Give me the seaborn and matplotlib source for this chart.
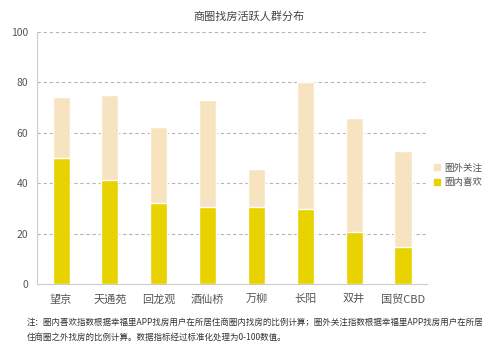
import numpy as np
import pandas as pd
import seaborn as sns
import matplotlib.pyplot as plt
from matplotlib.lines import Line2D

# data
districts = ["望京", "天通苑", "回龙观", "酒仙桥", "万柳", "长阳", "双井", "国贸CBD"]
inner_like = [50.0, 41.3, 32.4, 30.8, 30.8, 29.9, 20.7, 14.9]      # 圈内喜欢
outer_focus = [24.0, 33.5, 29.9, 42.0, 14.9, 50.1, 45.1, 37.9]     # 圈外关注

yticks = [0, 20, 40, 60, 80, 100]
title = "商圈找房活跃人群分布"
note = ("注：圈内喜欢指数根据幸福里APP找房用户在所居住商圈内找房的比例计算；圈外关注指数根据幸福里APP找房用户在所居\n"
        "住商圈之外找房的比例计算。数据指标经过标准化处理为0-100数值。")

c_inner = "#E8D200"
c_outer = "#F8E3C0"

sns.set_style("white")
plt.rcParams['font.family'] = ['Noto Sans CJK SC', 'DejaVu Sans']

df = pd.DataFrame({"district": districts, "inner": inner_like, "outer": outer_focus})
df["total"] = df["inner"] + df["outer"]

fig = plt.figure(figsize=(4.99, 3.52), dpi=100)
ax = fig.add_axes([0.0735, 0.192, 0.783, 0.718])

sns.barplot(data=df, x="district", y="total", color=c_outer, width=0.35,
            saturation=1, ax=ax, zorder=3)
sns.barplot(data=df, x="district", y="inner", color=c_inner, width=0.35,
            saturation=1, ax=ax, zorder=4)

ax.set_xlim(-0.5, len(districts) - 0.5)
ax.set_ylim(0, 100)
ax.set_yticks(yticks)
for t in yticks[1:]:
    ax.axhline(t, color="#b5b5b5", lw=0.8, ls=(0, (3, 2.5)), zorder=1)
ax.set_xlabel("")
ax.set_ylabel("")
ax.tick_params(axis="both", length=0, labelsize=7.5, colors="#555555")
ax.tick_params(axis="x", labelsize=8, pad=7)
ax.tick_params(axis="y", pad=6)
for s in ["top", "right"]:
    ax.spines[s].set_visible(False)
for s in ["left", "bottom"]:
    ax.spines[s].set_color("#cccccc")
    ax.spines[s].set_linewidth(0.8)

fig.text(0.5, 0.952, title, ha="center", va="center", fontsize=8, color="#444444")

handles = [Line2D([], [], marker="s", ls="", color=c_outer, markersize=4.5),
           Line2D([], [], marker="s", ls="", color=c_inner, markersize=4.5)]
fig.legend(handles, ["圈外关注", "圈内喜欢"], loc="center left",
           bbox_to_anchor=(0.868, 0.502), frameon=False, fontsize=6.8,
           handlelength=0.8, handletextpad=0.4, labelspacing=0.55,
           borderpad=0, borderaxespad=0, labelcolor="#555555")

fig.text(0.054, 0.064, note, ha="left", va="center", fontsize=6.1,
         color="#333333", linespacing=1.85)

fig.savefig("out.png", dpi=100)
